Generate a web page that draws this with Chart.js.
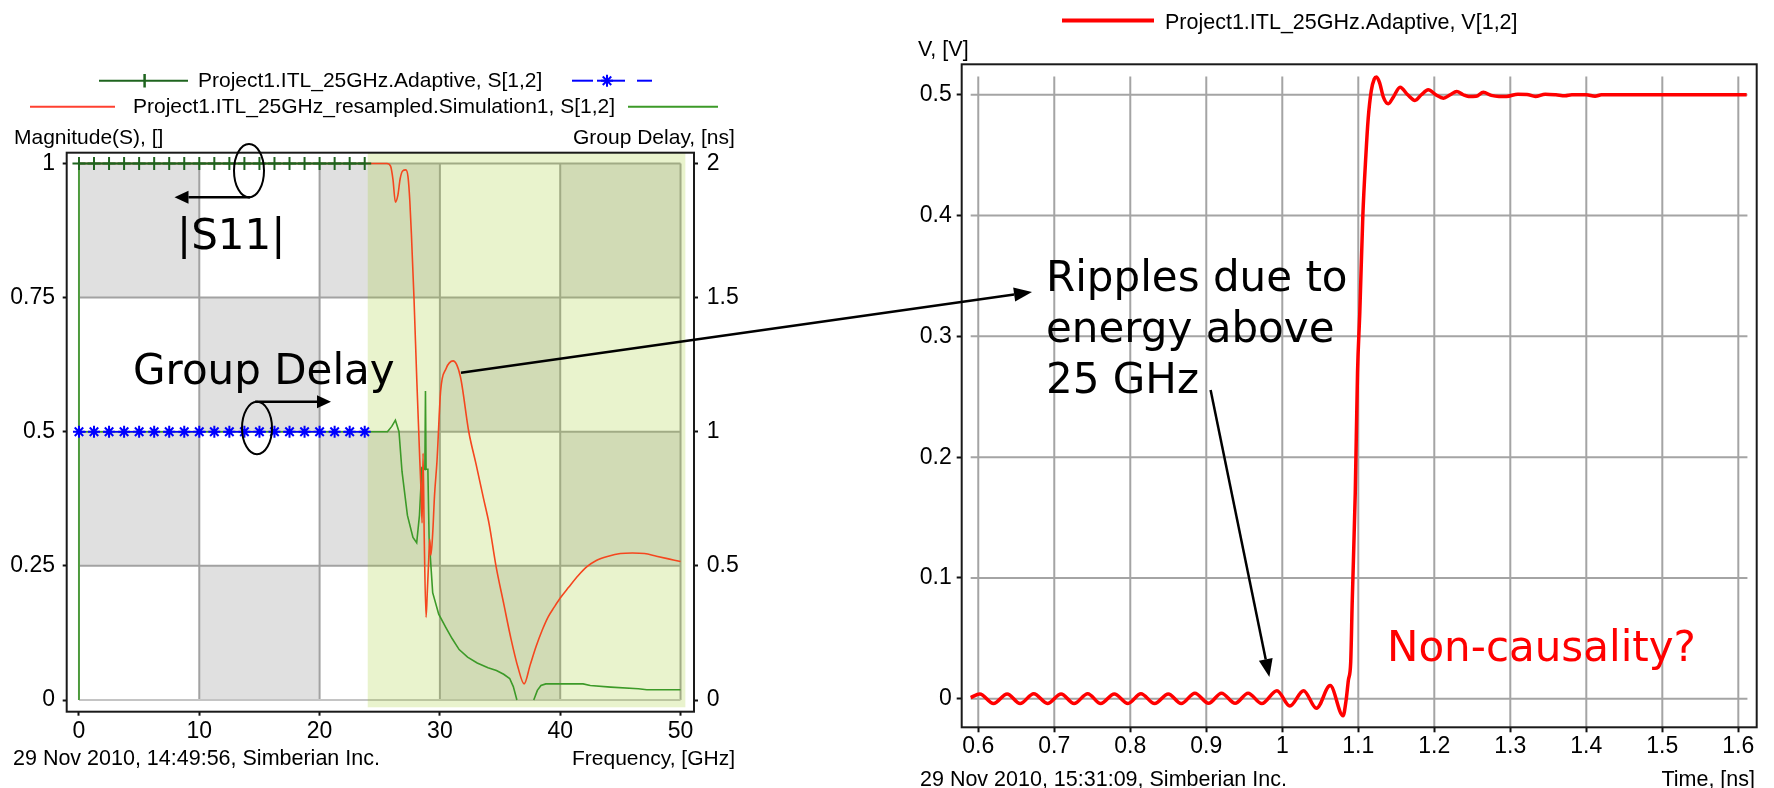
<!DOCTYPE html>
<html>
<head>
<meta charset="utf-8">
<script src="https://cdn.jsdelivr.net/npm/chart.js@4.4.1/dist/chart.umd.min.js"></script>
<style>
  html,body{margin:0;padding:0;background:#fff;}
  body{width:1774px;height:788px;position:relative;overflow:hidden;}
  canvas{position:absolute;top:0;}
  .t{position:absolute;white-space:nowrap;font-family:'Liberation Sans',Arial,sans-serif;font-size:21px;line-height:22px;color:#000;z-index:2;}
  .f{font-size:21.5px;}
  .a{position:absolute;white-space:nowrap;font-family:'DejaVu Sans',Verdana,sans-serif;font-size:42px;line-height:42px;color:#000;z-index:2;}
</style>
</head>
<body>
<canvas id="left" width="740" height="788" style="left:0"></canvas>
<canvas id="right" width="1014" height="788" style="left:760px"></canvas>
<canvas id="overlay" width="1774" height="788" style="left:0;z-index:1;pointer-events:none"></canvas>

<div class="t" style="left:198px;top:69px">Project1.ITL_25GHz.Adaptive, S[1,2]</div>
<div class="t" style="left:133px;top:95px">Project1.ITL_25GHz_resampled.Simulation1, S[1,2]</div>
<div class="t" style="left:14px;top:126px">Magnitude(S), []</div>
<div class="t" style="left:573px;top:126px">Group Delay, [ns]</div>
<div class="t f" style="left:13px;top:747px">29 Nov 2010, 14:49:56, Simberian Inc.</div>
<div class="t" style="left:572px;top:747px">Frequency, [GHz]</div>

<div class="t f" style="left:1165px;top:11px">Project1.ITL_25GHz.Adaptive, V[1,2]</div>
<div class="t f" style="left:918px;top:38px">V, [V]</div>
<div class="t f" style="left:920px;top:768px">29 Nov 2010, 15:31:09, Simberian Inc.</div>
<div class="t f" style="right:19px;top:768px">Time, [ns]</div>

<div class="a" style="left:177px;top:214px">|S11|</div>
<div class="a" style="left:133px;top:349px">Group Delay</div>
<div class="a" style="left:1046px;top:256px">Ripples due to</div>
<div class="a" style="left:1046px;top:307px">energy above</div>
<div class="a" style="left:1046px;top:358px">25 GHz</div>
<div class="a" style="left:1387px;top:626px;color:#ff0000">Non-causality?</div>

<script>
// ---------------- DATA: left chart (S-parameters) ----------------
const adaptiveFreqGHz = [0, 1.25, 2.5, 3.75, 5, 6.25, 7.5, 8.75, 10, 11.25, 12.5, 13.75, 15, 16.25, 17.5, 18.75, 20, 21.25, 22.5, 23.75];
const adaptiveMagnitude = [1, 1, 1, 1, 1, 1, 1, 1, 1, 1, 1, 1, 1, 1, 1, 1, 1, 1, 1, 1];
const adaptiveGroupDelayNs = [1, 1, 1, 1, 1, 1, 1, 1, 1, 1, 1, 1, 1, 1, 1, 1, 1, 1, 1, 1];

const resampledFreqGHz = [0, 25.6, 25.9, 26.1, 26.3, 26.5, 26.7, 26.9, 27.17, 27.35,
  27.5, 27.63, 27.84, 28.08, 28.33, 28.45, 28.52, 28.6, 28.7, 28.85,
  28.95, 29.06, 29.15, 29.25, 29.4, 29.55, 29.76, 30.06, 30.5, 31.1,
  31.7, 32.4, 33.0, 33.6, 34.1, 34.66, 35.3, 35.9, 36.5, 37.0,
  37.5, 38.0, 38.5, 39.0, 39.5, 40.0, 40.7, 41.5, 42.2, 43.0,
  44, 45, 46, 47, 48, 49, 50];
const resampledMagnitude = [1, 1, 0.995, 0.97, 0.928, 0.94, 0.972, 0.986, 0.988, 0.975,
  0.93, 0.869, 0.753, 0.596, 0.446, 0.38, 0.33, 0.46, 0.3, 0.154,
  0.2, 0.256, 0.3, 0.27, 0.31, 0.38, 0.446, 0.576, 0.617, 0.632,
  0.603, 0.5, 0.44, 0.378, 0.327, 0.25, 0.18, 0.115, 0.06, 0.03,
  0.065, 0.1, 0.13, 0.155, 0.173, 0.19, 0.21, 0.232, 0.248, 0.26,
  0.268, 0.273, 0.274, 0.273, 0.268, 0.263, 0.258];

const resampledGdFreqGHz = [0, 0, 0, 25.64, 26.0, 26.3, 26.6, 26.85, 27.3, 27.76,
  28.07, 28.3, 28.5, 28.75, 28.8, 28.85, 29.0, 29.1, 29.4, 29.9,
  30.5, 31.0, 31.6, 32.3, 33.1, 34.0, 34.7, 35.3, 35.8, 36.1,
  36.4, 37.1, 37.8, 38.1, 38.4, 38.8, 41.9, 42.5, 44.2, 46.5,
  47.2, 50];
const resampledGroupDelayNs = [0, 2, 1, 1, 1.02, 1.043, 1.0, 0.852, 0.688, 0.606,
  0.586, 0.688, 0.866, 0.86, 1.152, 0.86, 0.86, 0.606, 0.4, 0.32,
  0.27, 0.23, 0.188, 0.16, 0.138, 0.12, 0.11, 0.096, 0.08, 0.05,
  0, null, 0, 0.036, 0.054, 0.06, 0.06, 0.054, 0.048, 0.042,
  0.038, 0.038];

const freqTicks = [0, 10, 20, 30, 40, 50];
const freqTickLabels = ['0', '10', '20', '30', '40', '50'];
const magTicks = [0, 0.25, 0.5, 0.75, 1];
const magTickLabels = ['0', '0.25', '0.5', '0.75', '1'];
const gdTicks = [0, 0.5, 1, 1.5, 2];
const gdTickLabels = ['0', '0.5', '1', '1.5', '2'];

// ---------------- DATA: right chart (transient) ----------------
const timeNs = [0.59, 0.602, 0.620, 0.638, 0.655, 0.673, 0.691, 0.709, 0.726, 0.744,
  0.761, 0.779, 0.797, 0.814, 0.832, 0.850, 0.867, 0.885, 0.903, 0.920,
  0.938, 0.955, 0.973, 0.993, 1.010, 1.028, 1.045, 1.063, 1.080, 1.084,
  1.087, 1.090, 1.092, 1.096, 1.099, 1.102, 1.106, 1.110, 1.113, 1.117,
  1.121, 1.124, 1.128, 1.133, 1.1395, 1.146, 1.155, 1.165, 1.1746, 1.183,
  1.192, 1.202, 1.212, 1.221, 1.2295, 1.238, 1.245, 1.255, 1.2645, 1.275,
  1.285, 1.295, 1.31, 1.322, 1.333, 1.346, 1.36, 1.372, 1.381, 1.40,
  1.4115, 1.42, 1.50, 1.611];
const voltageV = [0.001, 0.004, -0.004, 0.004, -0.004, 0.0042, -0.0038, 0.004, -0.004, 0.0042,
  -0.004, 0.004, -0.0038, 0.0042, -0.004, 0.004, -0.004, 0.0046, -0.0037, 0.0046,
  -0.0037, 0.0046, -0.004, 0.0067, -0.006, 0.0066, -0.0079, 0.0109, -0.014, -0.001,
  0.0156, 0.03, 0.08, 0.17, 0.27, 0.32, 0.40, 0.45, 0.48, 0.503,
  0.513, 0.5146, 0.51, 0.498, 0.4925, 0.498, 0.5063, 0.5, 0.4953, 0.5,
  0.5041, 0.5, 0.4972, 0.5, 0.5027, 0.5, 0.4986, 0.4988, 0.502, 0.4995,
  0.4986, 0.4986, 0.5005, 0.5003, 0.4986, 0.5005, 0.5, 0.4992, 0.5, 0.5,
  0.4988, 0.5, 0.5, 0.5];

const timeTicks = [0.6, 0.7, 0.8, 0.9, 1.0, 1.1, 1.2, 1.3, 1.4, 1.5, 1.6];
const timeTickLabels = ['0.6', '0.7', '0.8', '0.9', '1', '1.1', '1.2', '1.3', '1.4', '1.5', '1.6'];
const voltTicks = [0, 0.1, 0.2, 0.3, 0.4, 0.5];
const voltTickLabels = ['0', '0.1', '0.2', '0.3', '0.4', '0.5'];

// shaded band (frequencies above the adaptive range)
const bandStartGHz = 24, bandEndGHz = 50.4, bandBottom = -0.0136;

// ---------------- helpers ----------------
const pts = (xs, ys) => xs.map((x, i) => ({x: x, y: ys[i]}));
const tickFont = {family: "'Liberation Sans', Arial, sans-serif", size: 23};
const setTicks = (vals) => (s) => { s.ticks = vals.map(v => ({value: v})); };
const labelFrom = (vals, labels) => (v) => { const i = vals.findIndex(t => Math.abs(t - v) < 1e-9); return i >= 0 ? labels[i] : ''; };
const tickGrid = (len) => ({display: true, drawOnChartArea: false, drawTicks: true, tickLength: len, tickColor: '#111', tickWidth: 2});

function frame(ctx, a) {
  ctx.save(); ctx.strokeStyle = '#1a1a1a'; ctx.lineWidth = 2;
  ctx.strokeRect(a.left, a.top, a.right - a.left, a.bottom - a.top); ctx.restore();
}

const leftBg = {
  id: 'leftBg',
  beforeDatasetsDraw(chart) {
    const {ctx, chartArea: a, scales: {x, y}} = chart;
    ctx.save();
    for (let i = 0; i < freqTicks.length - 1; i++) {
      for (let j = 0; j < magTicks.length - 1; j++) {
        if ((i + j) % 2 === 1) {
          const x0 = x.getPixelForValue(freqTicks[i]), x1 = x.getPixelForValue(freqTicks[i + 1]);
          const y0 = y.getPixelForValue(magTicks[j + 1]), y1 = y.getPixelForValue(magTicks[j]);
          ctx.fillStyle = '#e0e0e0'; ctx.fillRect(x0, y0, x1 - x0, y1 - y0);
        }
      }
    }
    ctx.lineWidth = 2;
    const xL = x.getPixelForValue(freqTicks[0]), xR = x.getPixelForValue(freqTicks[freqTicks.length - 1]);
    const yB = y.getPixelForValue(magTicks[0]), yT = y.getPixelForValue(magTicks[magTicks.length - 1]);
    freqTicks.forEach(v => { const p = x.getPixelForValue(v); ctx.strokeStyle = '#a2a2a2'; ctx.beginPath(); ctx.moveTo(p, yT); ctx.lineTo(p, yB); ctx.stroke(); });
    magTicks.forEach(v => { const p = y.getPixelForValue(v); ctx.strokeStyle = v === 0 ? '#c4c4c4' : '#a2a2a2'; ctx.beginPath(); ctx.moveTo(xL, p); ctx.lineTo(xR, p); ctx.stroke(); });
    const bx0 = x.getPixelForValue(bandStartGHz), bx1 = x.getPixelForValue(bandEndGHz);
    const by1 = y.getPixelForValue(bandBottom);
    ctx.fillStyle = 'rgba(159,203,38,0.23)';
    ctx.fillRect(bx0, a.top, bx1 - bx0, by1 - a.top);
    ctx.restore();
  },
  afterDraw(chart) { frame(chart.ctx, chart.chartArea); }
};

const rightBg = {
  id: 'rightBg',
  beforeDatasetsDraw(chart) {
    const {ctx, chartArea: a, scales: {x, y}} = chart;
    ctx.save(); ctx.strokeStyle = '#a4a4a4'; ctx.lineWidth = 2;
    const yTop = y.getPixelForValue(0.515);
    timeTicks.forEach(v => { const p = x.getPixelForValue(v); ctx.beginPath(); ctx.moveTo(p, yTop); ctx.lineTo(p, a.bottom); ctx.stroke(); });
    const xL = x.getPixelForValue(0.59), xR = x.getPixelForValue(1.612);
    voltTicks.forEach(v => { const p = y.getPixelForValue(v); ctx.beginPath(); ctx.moveTo(xL, p); ctx.lineTo(xR, p); ctx.stroke(); });
    ctx.restore();
  },
  afterDraw(chart) { frame(chart.ctx, chart.chartArea); }
};

// ---------------- left chart ----------------
const leftChart = new Chart(document.getElementById('left'), {
  type: 'line',
  data: {
    datasets: [
      {label: 'Project1.ITL_25GHz.Adaptive, group delay', data: pts(adaptiveFreqGHz, adaptiveGroupDelayNs), yAxisID: 'y2',
        borderColor: '#0000ff', borderWidth: 1.5, borderDash: [7, 5], tension: 0,
        pointStyle: 'star', pointRadius: 6, pointBorderWidth: 2, pointBorderColor: '#0000ff', pointBackgroundColor: '#0000ff'},
      {label: 'Project1.ITL_25GHz.Adaptive, S[1,2]', data: pts(adaptiveFreqGHz, adaptiveMagnitude), yAxisID: 'y',
        borderColor: '#1e641e', borderWidth: 2, tension: 0,
        pointStyle: 'cross', pointRadius: 6.5, pointBorderWidth: 2, pointBorderColor: '#1e641e'},
      {label: 'Project1.ITL_25GHz_resampled.Simulation1, S[1,2]', data: pts(resampledFreqGHz, resampledMagnitude), yAxisID: 'y',
        borderColor: '#f5461e', borderWidth: 1.6, pointRadius: 0, cubicInterpolationMode: 'monotone'},
      {label: 'Project1.ITL_25GHz_resampled.Simulation1, group delay', data: pts(resampledGdFreqGHz, resampledGroupDelayNs), yAxisID: 'y2',
        borderColor: '#3c9a28', borderWidth: 1.6, pointRadius: 0, tension: 0, spanGaps: false}
    ]
  },
  options: {
    responsive: false, animation: false, devicePixelRatio: 1, events: [],
    layout: {padding: {top: 152.7, left: 0, right: 0, bottom: 0}},
    plugins: {legend: {display: false}, tooltip: {enabled: false}},
    scales: {
      x: {type: 'linear', min: -1.02, max: 51.12, afterBuildTicks: setTicks(freqTicks), afterFit: s => { s.height = 76.3; },
        grid: tickGrid(4), border: {display: false},
        ticks: {font: tickFont, color: '#000', padding: 2, maxRotation: 0, autoSkip: false, callback: labelFrom(freqTicks, freqTickLabels)}},
      y: {type: 'linear', position: 'left', min: -0.0218, max: 1.0201, afterBuildTicks: setTicks(magTicks), afterFit: s => { s.width = 66.7; },
        grid: tickGrid(4), border: {display: false},
        ticks: {font: tickFont, color: '#000', padding: 7.7, autoSkip: false, callback: labelFrom(magTicks, magTickLabels)}},
      y2: {type: 'linear', position: 'right', min: -0.0436, max: 2.0402, afterBuildTicks: setTicks(gdTicks), afterFit: s => { s.width = 46; },
        grid: tickGrid(4), border: {display: false},
        ticks: {font: tickFont, color: '#000', padding: 8.7, autoSkip: false, callback: labelFrom(gdTicks, gdTickLabels)}}
    }
  },
  plugins: [leftBg]
});

// ---------------- right chart ----------------
const rightChart = new Chart(document.getElementById('right'), {
  type: 'line',
  data: {
    datasets: [
      {label: 'Project1.ITL_25GHz.Adaptive, V[1,2]', data: pts(timeNs, voltageV),
        borderColor: '#ff0000', borderWidth: 3.5, pointRadius: 0, cubicInterpolationMode: 'monotone'}
    ]
  },
  options: {
    responsive: false, animation: false, devicePixelRatio: 1, events: [],
    layout: {padding: {top: 64.3, left: 0, right: 17.3, bottom: 0}},
    plugins: {legend: {display: false}, tooltip: {enabled: false}},
    scales: {
      x: {type: 'linear', min: 0.5782, max: 1.6242, afterBuildTicks: setTicks(timeTicks), afterFit: s => { s.height = 60.7; },
        grid: tickGrid(5), border: {display: false},
        ticks: {font: tickFont, color: '#000', padding: 1, maxRotation: 0, autoSkip: false, callback: labelFrom(timeTicks, timeTickLabels)}},
      y: {type: 'linear', position: 'left', min: -0.0236, max: 0.5252, afterBuildTicks: setTicks(voltTicks), afterFit: s => { s.width = 201.7; },
        grid: tickGrid(5), border: {display: false},
        ticks: {font: tickFont, color: '#000', padding: 5, autoSkip: false, callback: labelFrom(voltTicks, voltTickLabels)}}
    }
  },
  plugins: [rightBg]
});

// ---------------- overlay: legend samples and annotations ----------------
const oc = document.getElementById('overlay').getContext('2d');
const RIGHT_OFFSET = 760;
function seg(x0, y0, x1, y1, color, w) { oc.strokeStyle = color; oc.lineWidth = w; oc.beginPath(); oc.moveTo(x0, y0); oc.lineTo(x1, y1); oc.stroke(); }
function arrow(x0, y0, x1, y1, head, half, w) {
  const ang = Math.atan2(y1 - y0, x1 - x0);
  const bx = x1 - head * Math.cos(ang), by = y1 - head * Math.sin(ang);
  seg(x0, y0, bx, by, '#000', w);
  oc.fillStyle = '#000'; oc.beginPath(); oc.moveTo(x1, y1);
  oc.lineTo(bx + half * Math.sin(ang), by - half * Math.cos(ang));
  oc.lineTo(bx - half * Math.sin(ang), by + half * Math.cos(ang));
  oc.closePath(); oc.fill();
}
function star(cx, cy, r, color) {
  for (let k = 0; k < 4; k++) {
    const an = k * Math.PI / 4;
    seg(cx - r * Math.cos(an), cy - r * Math.sin(an), cx + r * Math.cos(an), cy + r * Math.sin(an), color, 2);
  }
}
// legend samples (left chart)
seg(99, 80.7, 188, 80.7, '#1e641e', 2);
seg(144.6, 74, 144.6, 87.5, '#1e641e', 2.5);
seg(572, 80.7, 593, 80.7, '#0000ff', 2);
seg(597, 80.7, 625, 80.7, '#0000ff', 2);
seg(637, 80.7, 652, 80.7, '#0000ff', 2);
star(607, 80.7, 6, '#0000ff');
seg(30, 106.7, 115, 106.7, '#ff4030', 2);
seg(628, 106.7, 718, 106.7, '#3c9a28', 2);
// legend sample (right chart)
seg(1062, 20.5, 1154, 20.5, '#ff0000', 4);

// ellipses + small arrows
oc.strokeStyle = '#000'; oc.lineWidth = 2;
oc.beginPath(); oc.ellipse(249, 170.7, 15, 26.7, 0, 0, Math.PI * 2); oc.stroke();
oc.beginPath(); oc.ellipse(257, 428, 15, 26.3, 0, 0, Math.PI * 2); oc.stroke();
arrow(250, 197.3, 174.5, 197.3, 14, 6.5, 2.5);
arrow(255, 401.7, 331, 401.7, 14, 6.5, 2.5);

// long arrows anchored on chart scales
const lx = leftChart.scales.x, ly = leftChart.scales.y;
arrow(lx.getPixelForValue(31.75), ly.getPixelForValue(0.61), 1032, 292, 18, 7, 2.5);
const rx = rightChart.scales.x, ry = rightChart.scales.y;
arrow(1210.6, 390, rx.getPixelForValue(0.983) + RIGHT_OFFSET, ry.getPixelForValue(0.018), 18, 7, 2.5);
</script>
</body>
</html>
